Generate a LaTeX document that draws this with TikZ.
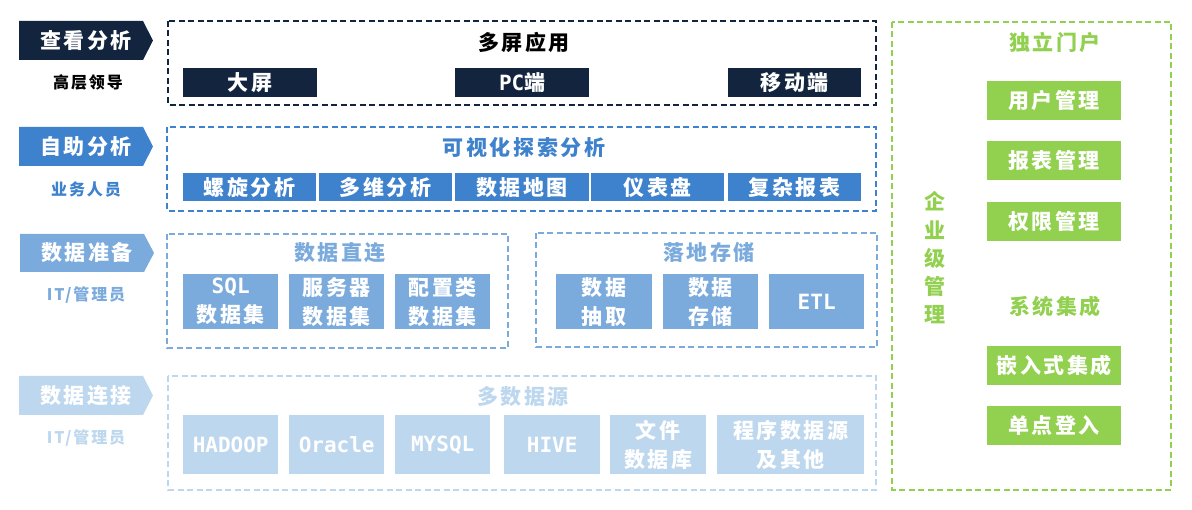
\documentclass[tikz,border=0pt]{standalone}
\usepackage{fontspec}
\setmainfont{Noto Sans CJK SC}[LetterSpace=12]
\newfontfamily\mono{DejaVu Sans Mono}
\definecolor{cnavy}{HTML}{13253E}
\definecolor{cblue}{HTML}{3E81CC}
\definecolor{cmid}{HTML}{7BAADC}
\definecolor{clight}{HTML}{BDD7EE}
\definecolor{cgreen}{HTML}{92D050}
\tikzset{
  frame/.style={draw=#1, dash pattern=on 6pt off 3.5pt, line width=1.2pt},
  btn/.style={fill=#1, anchor=north west, inner sep=0pt, text=white, align=center,
    font=\fontsize{21}{29}\selectfont\bfseries},
  ttl/.style={text=#1, inner sep=0pt, font=\fontsize{21}{24}\selectfont\bfseries},
  sublbl/.style={text=#1, inner sep=0pt, font=\fontsize{16}{18}\selectfont\bfseries},
  tagtxt/.style={text=white, inner sep=0pt, font=\fontsize{21}{24}\selectfont\bfseries},
}
\begin{document}
\begin{tikzpicture}[x=1pt,y=-1pt]
\useasboundingbox (0,0) rectangle (1192,510);
% ---- left tags
\fill[cnavy]  (19,21) -- (143,21) -- (153,40.5) -- (143,60) -- (19,60) -- cycle;
\fill[cblue]  (19,127) -- (143,127) -- (153,146.5) -- (143,166) -- (19,166) -- cycle;
\fill[cmid]   (20,234) -- (144,234) -- (154,253) -- (144,272) -- (20,272) -- cycle;
\fill[clight] (19,376) -- (143,376) -- (153,395.5) -- (143,415) -- (19,415) -- cycle;
\node[tagtxt] (t1) at (86,40.5) {查看分析};
\node[tagtxt] (t2) at (86,146.5) {自助分析};
\node[tagtxt] (t3) at (87,253) {数据准备};
\node[tagtxt] (t4) at (86,395.5) {数据连接};
\node[sublbl=black] (s1) at (88,82) {高层领导};
\node[sublbl=cblue] (s2) at (86,190) {业务人员};
\node[sublbl=cmid] (s3) at (86,295) {IT/管理员};
\node[sublbl=clight] (s4) at (86,438) {IT/管理员};
% ---- frames
\draw[frame=cnavy] (168,21) rectangle (876,105);
\draw[frame=cblue] (167,127) rectangle (876,211);
\draw[frame=cmid] (167,234) rectangle (508,348);
\draw[frame=cmid] (536,233) rectangle (877,347);
\draw[frame=clight] (168,376) rectangle (876,490);
\draw[frame=cgreen] (892,22) rectangle (1171,490);
% ---- titles
\node[ttl=black] (h1) at (524,42) {多屏应用};
\node[ttl=cblue] (h2) at (524,147) {可视化探索分析};
\node[ttl=cmid] (h3) at (340,253) {数据直连};
\node[ttl=cmid] (h4) at (709,252) {落地存储};
\node[ttl=clight] (h5) at (523,397) {多数据源};
\node[ttl=cgreen] (h6) at (1055,42) {独立门户};
\node[ttl=cgreen] (h7) at (1055,307) {系统集成};
\node[ttl=cgreen, align=center, font=\fontsize{21}{28.3}\selectfont\bfseries] (h8) at (935,258) {企\\业\\级\\管\\理};
% ---- row 1
\node[btn=cnavy, minimum width=134pt, minimum height=29pt] (a1) at (183,68) {大屏};
\node[btn=cnavy, minimum width=134pt, minimum height=29pt] (a2) at (455,68) {{\mono PC}端};
\node[btn=cnavy, minimum width=133pt, minimum height=29pt] (a3) at (728,68) {移动端};
% ---- row 2
\node[btn=cblue, minimum width=133pt, minimum height=28pt] (b1) at (183,173) {螺旋分析};
\node[btn=cblue, minimum width=133pt, minimum height=28pt] (b2) at (319,173) {多维分析};
\node[btn=cblue, minimum width=134pt, minimum height=28pt] (b3) at (455,173) {数据地图};
\node[btn=cblue, minimum width=133pt, minimum height=28pt] (b4) at (591,173) {仪表盘};
\node[btn=cblue, minimum width=133pt, minimum height=28pt] (b5) at (728,173) {复杂报表};
% ---- row 3
\node[btn=cmid, minimum width=95pt, minimum height=55pt] (c1) at (183,274) {{\mono SQL}\\数据集};
\node[btn=cmid, minimum width=95pt, minimum height=55pt] (c2) at (289,274) {服务器\\数据集};
\node[btn=cmid, minimum width=95pt, minimum height=55pt] (c3) at (395,274) {配置类\\数据集};
\node[btn=cmid, minimum width=96pt, minimum height=55pt] (c4) at (556,274) {数据\\抽取};
\node[btn=cmid, minimum width=95pt, minimum height=55pt] (c5) at (663,274) {数据\\存储};
\node[btn=cmid, minimum width=95pt, minimum height=55pt] (c6) at (769,274) {\mono ETL};
% ---- row 4
\node[btn=clight, minimum width=95pt, minimum height=59pt] (d1) at (183,415) {\mono HADOOP};
\node[btn=clight, minimum width=95pt, minimum height=59pt] (d2) at (289,415) {\mono Oracle};
\node[btn=clight, minimum width=95pt, minimum height=59pt] (d3) at (395,415) {\mono MYSQL};
\node[btn=clight, minimum width=96pt, minimum height=59pt] (d4) at (504,415) {\mono HIVE};
\node[btn=clight, minimum width=96pt, minimum height=59pt] (d5) at (610,415) {文件\\数据库};
\node[btn=clight, minimum width=147pt, minimum height=59pt] (d6) at (717,415) {程序数据源\\及其他};
% ---- right column
\node[btn=cgreen, minimum width=134pt, minimum height=39pt] (g1) at (987,81) {用户管理};
\node[btn=cgreen, minimum width=134pt, minimum height=39pt] (g2) at (987,141) {报表管理};
\node[btn=cgreen, minimum width=134pt, minimum height=39pt] (g3) at (987,202) {权限管理};
\node[btn=cgreen, minimum width=134pt, minimum height=39pt] (g4) at (987,346) {嵌入式集成};
\node[btn=cgreen, minimum width=134pt, minimum height=39pt] (g5) at (987,406) {单点登入};
\end{tikzpicture}
\end{document}
